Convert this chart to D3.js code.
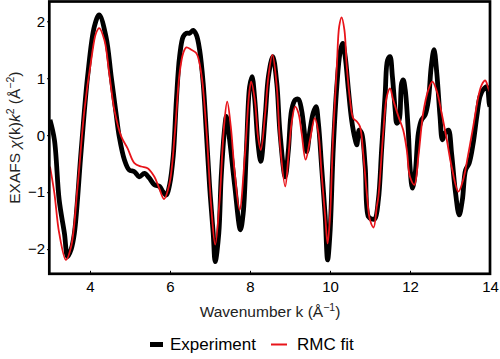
<!DOCTYPE html>
<html>
<head>
<meta charset="utf-8">
<script src="https://cdn.jsdelivr.net/npm/d3@7"></script>
<style>
  html, body { margin: 0; padding: 0; background: #fff; }
  svg { display: block; font-family: "Liberation Sans", Arial, sans-serif; }
</style>
</head>
<body>
<svg id="chart" width="500" height="359"></svg>
<script>
// ---- Data ----
const expK = [3.00,3.11,3.23,3.36,3.44,3.53,3.61,3.78,3.94,4.11,4.23,4.40,4.53,4.65,4.73,4.86,4.98,5.11,5.23,5.36,5.48,5.61,5.74,5.82,5.91,5.99,6.08,6.16,6.24,6.33,6.41,6.49,6.58,6.66,6.74,6.83,6.91,6.99,7.08,7.13,7.22,7.28,7.37,7.41,7.49,7.62,7.76,7.83,7.91,7.99,8.05,8.12,8.20,8.27,8.38,8.46,8.57,8.67,8.75,8.88,8.96,9.04,9.13,9.21,9.29,9.38,9.42,9.50,9.58,9.65,9.71,9.79,9.88,9.94,10.00,10.08,10.17,10.25,10.32,10.38,10.46,10.54,10.63,10.67,10.73,10.79,10.88,10.96,11.04,11.12,11.21,11.29,11.38,11.44,11.50,11.56,11.63,11.67,11.73,11.79,11.83,11.88,11.96,12.00,12.06,12.13,12.21,12.29,12.38,12.46,12.53,12.60,12.67,12.75,12.81,12.88,12.96,13.04,13.13,13.23,13.31,13.39,13.48,13.58,13.67,13.75,13.83,13.92,13.98,14.00];
const expVals = [0.27,-0.08,-1.14,-1.72,-2.13,-2.00,-1.72,-0.26,1.03,1.91,2.11,1.73,1.03,0.39,-0.02,-0.43,-0.61,-0.64,-0.73,-0.67,-0.75,-0.87,-0.90,-0.99,-1.05,-0.87,-0.37,0.62,1.38,1.73,1.79,1.79,1.84,1.76,1.50,0.91,0.03,-0.90,-1.72,-2.22,-1.72,-0.73,0.15,0.33,-0.08,-0.90,-1.66,-1.37,-0.26,0.85,1.03,0.62,-0.14,-0.46,0.33,1.03,1.38,0.91,0.04,-0.73,-0.26,0.44,0.62,0.63,0.44,-0.08,-0.29,0.09,0.39,0.50,0.21,-0.55,-1.43,-2.19,-1.72,-0.26,0.85,1.44,1.61,1.38,0.80,0.27,-0.08,-0.17,0.09,0.04,-0.55,-1.43,-1.47,-1.47,-1.13,-0.26,0.74,1.32,1.38,1.03,0.44,0.21,0.27,0.91,0.97,0.80,0.04,-0.55,-0.93,-0.67,0.04,0.27,0.36,0.62,1.20,1.50,1.09,0.33,-0.08,0.04,0.09,-0.32,-0.96,-1.40,-1.13,-0.61,-0.49,-0.14,0.33,0.68,0.80,0.85,0.56,0.50];

const fitK = [3.00,3.11,3.23,3.40,3.53,3.69,3.86,4.03,4.15,4.23,4.36,4.48,4.61,4.78,4.94,5.11,5.28,5.44,5.61,5.74,5.85,5.99,6.12,6.24,6.33,6.41,6.53,6.66,6.78,6.91,7.03,7.13,7.24,7.35,7.43,7.52,7.62,7.74,7.87,7.98,8.03,8.12,8.20,8.27,8.38,8.46,8.56,8.67,8.75,8.88,8.96,9.04,9.13,9.21,9.29,9.39,9.50,9.62,9.71,9.79,9.88,9.94,10.00,10.08,10.17,10.23,10.29,10.36,10.42,10.50,10.58,10.67,10.75,10.83,10.92,11.00,11.09,11.17,11.21,11.33,11.42,11.50,11.58,11.71,11.83,11.92,12.00,12.11,12.21,12.33,12.46,12.56,12.67,12.79,12.92,13.04,13.21,13.33,13.46,13.58,13.71,13.79,13.88,13.96,14.00];
const fitVals = [-0.55,-1.02,-1.72,-2.19,-1.95,-0.90,0.44,1.32,1.79,1.88,1.67,1.09,0.44,-0.02,-0.23,-0.49,-0.55,-0.58,-0.73,-0.95,-1.12,-0.84,0.03,1.09,1.44,1.54,1.50,1.44,1.09,0.09,-1.25,-1.92,-1.14,0.15,0.59,0.15,-0.67,-1.31,-0.37,0.74,0.94,0.62,-0.02,-0.26,0.39,1.03,1.41,0.85,-0.14,-0.90,-0.37,0.21,0.50,0.39,0.04,-0.43,-0.08,0.30,0.04,-0.67,-1.43,-1.90,-1.43,0.04,1.20,1.91,2.07,1.85,1.20,0.62,0.30,0.24,0.15,-0.32,-1.02,-1.49,-1.62,-1.25,-1.08,0.04,0.68,0.82,0.62,0.33,0.09,-0.26,-0.73,-0.87,-0.37,0.39,0.80,0.94,0.77,0.39,-0.08,-0.55,-0.99,-0.78,-0.32,0.15,0.68,0.88,0.96,0.82,0.75];

const xTicks = [4, 6, 8, 10, 12, 14];
const yTicks = [-2, -1, 0, 1, 2];
const legendLabels = ["Experiment", "RMC fit"];
const seriesColors = ["#000000", "#e8141a"];

// ---- Layout ----
const svg = d3.select("#chart");
const L = 50, R = 490, T = 1.5, B = 273.8;
const x = d3.scaleLinear().domain([3, 14]).range([L, R]);
const y = d3.scaleLinear().domain([-2.433, 2.347]).range([B, T]);

svg.append("defs").append("clipPath").attr("id", "clip")
  .append("rect").attr("x", L).attr("y", T).attr("width", R - L).attr("height", B - T);

const line = d3.line().x(d => x(d[0])).y(d => y(d[1])).curve(d3.curveCatmullRom.alpha(0.5));

const expData = expK.map((k, i) => [k, expVals[i]]);
const fitData = fitK.map((k, i) => [k, fitVals[i]]);

const plot = svg.append("g").attr("clip-path", "url(#clip)");
plot.append("path").datum(expData).attr("d", line)
  .attr("fill", "none").attr("stroke", seriesColors[0]).attr("stroke-width", 4.8)
  .attr("stroke-linejoin", "round");
plot.append("path").datum(fitData).attr("d", line)
  .attr("fill", "none").attr("stroke", seriesColors[1]).attr("stroke-width", 1.8)
  .attr("stroke-linejoin", "round");

// axes
const xAxis = d3.axisBottom(x).tickValues(xTicks).tickSize(-3).tickPadding(8).tickFormat(d3.format("d"));
const gx = svg.append("g").attr("transform", `translate(0,${B})`).call(xAxis);
gx.select(".domain").remove();
gx.selectAll("text").attr("font-size", 15).attr("fill", "#000").attr("font-family", "Liberation Sans, Arial, sans-serif");
gx.selectAll("line").attr("stroke", "#000").attr("stroke-width", 1);

const yAxis = d3.axisLeft(y).tickValues(yTicks).tickSize(3).tickPadding(2)
  .tickFormat(d => d < 0 ? "\u2212" + Math.abs(d) : String(d));
const gy = svg.append("g").attr("transform", `translate(${L},0)`).call(yAxis);
gy.select(".domain").remove();
gy.selectAll("text").attr("font-size", 15).attr("fill", "#000").attr("font-family", "Liberation Sans, Arial, sans-serif");
gy.selectAll("line").attr("stroke", "#000").attr("stroke-width", 1);

// frame
svg.append("rect").attr("x", L - 0.7).attr("y", T).attr("width", R - L + 0.7).attr("height", B - T)
  .attr("fill", "none").attr("stroke", "#000").attr("stroke-width", 2.7);

// axis titles
const xt = svg.append("text").attr("x", (L + R) / 2).attr("y", 317)
  .attr("text-anchor", "middle").attr("font-size", 15.5).attr("fill", "#222");
xt.append("tspan").text("Wavenumber k (Å");
xt.append("tspan").attr("font-size", 10.5).attr("dy", -6).text("\u22121");
xt.append("tspan").attr("dy", 6).text(")");

const yt = svg.append("text").attr("transform", `translate(20,${(T + B) / 2}) rotate(-90)`)
  .attr("text-anchor", "middle").attr("font-size", 15.5).attr("fill", "#222");
yt.append("tspan").text("EXAFS ");
yt.append("tspan").attr("font-style", "italic").text("χ");
yt.append("tspan").text("(k)");
yt.append("tspan").attr("font-style", "italic").text("k");
yt.append("tspan").attr("font-size", 10.5).attr("dy", -6).text("2");
yt.append("tspan").attr("dy", 6).text(" (Å");
yt.append("tspan").attr("font-size", 10.5).attr("dy", -6).text("\u22122");
yt.append("tspan").attr("dy", 6).text(")");

// legend
const legend = svg.append("g");
const legX = [150, 271], legLen = [13, 16], legW = [5, 2], legTx = [170, 297];
legendLabels.forEach((lab, i) => {
  legend.append("line").attr("x1", legX[i]).attr("x2", legX[i] + legLen[i])
    .attr("y1", 344.5).attr("y2", 344.5)
    .attr("stroke", seriesColors[i]).attr("stroke-width", legW[i]);
  legend.append("text").attr("x", legTx[i]).attr("y", 349.5)
    .attr("font-size", 17).attr("fill", "#000").text(lab);
});
</script>
</body>
</html>
